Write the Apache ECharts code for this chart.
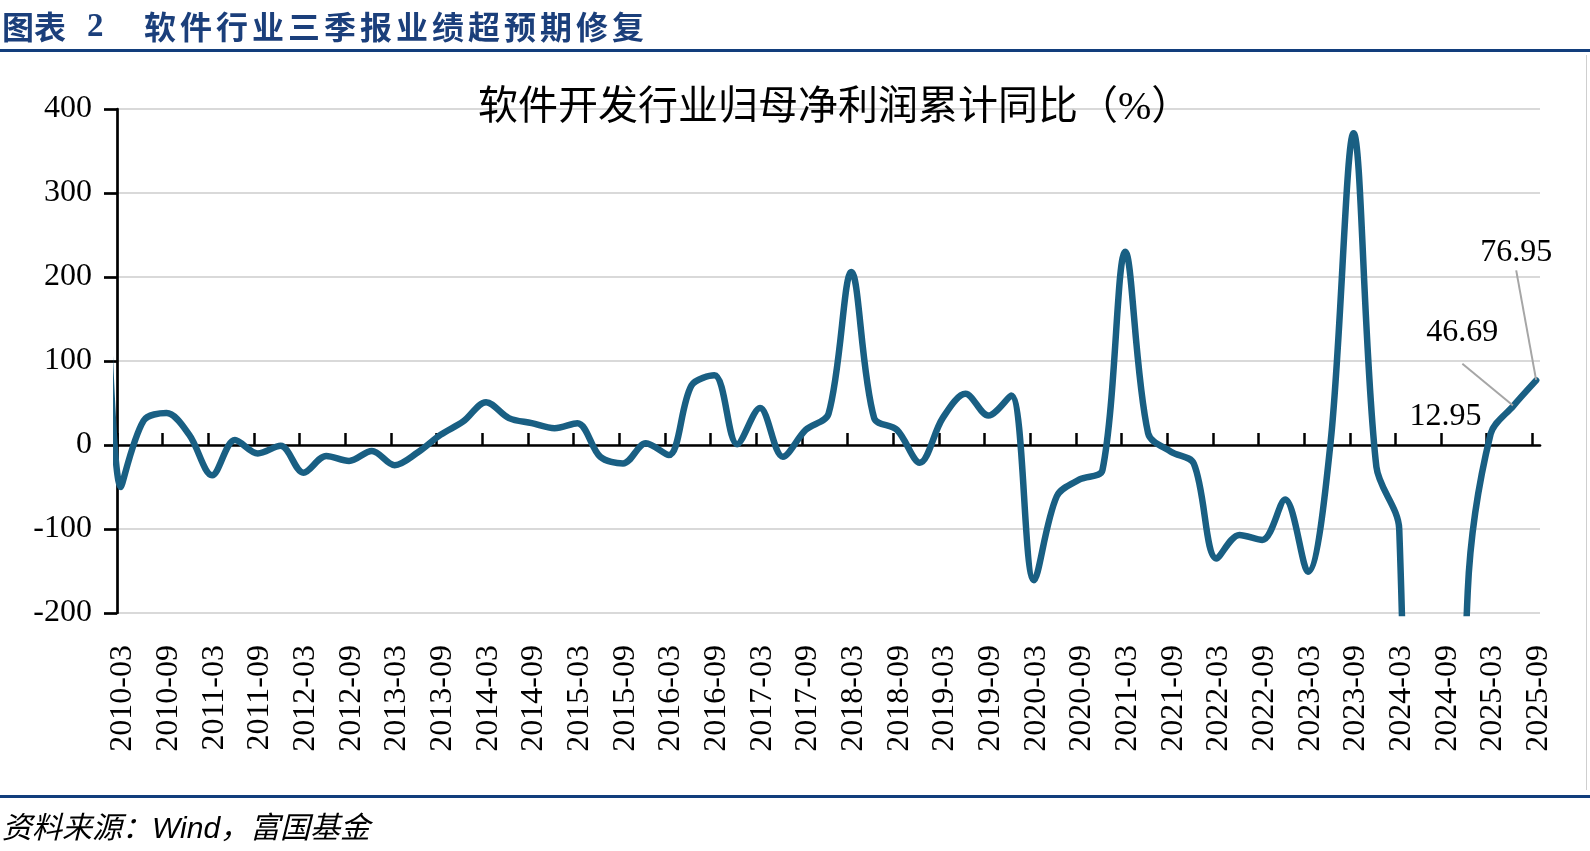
<!DOCTYPE html>
<html><head><meta charset="utf-8">
<script src="https://cdn.jsdelivr.net/npm/echarts@6/dist/echarts.min.js"></script>
<style>
html,body{margin:0;padding:0;background:#fff;}
#wrap{position:relative;width:1590px;height:851px;overflow:hidden;background:#fff;}
#chart{position:absolute;left:0;top:0;width:1590px;height:851px;}
.t{position:absolute;white-space:nowrap;line-height:1;}
</style></head><body>
<div id="wrap">
<div id="chart"></div>
<div class="t" style="left:2px;top:9px;font-weight:bold;font-size:32px;font-family:'Noto Sans CJK SC';color:#1B3F7B;">图表</div>
<div class="t" style="left:87px;top:9px;font-weight:bold;font-size:33px;font-family:'Liberation Serif';color:#1B3F7B;">2</div>
<div class="t" style="left:144px;top:9px;font-weight:bold;font-size:32px;font-family:'Noto Sans CJK SC';color:#1B3F7B;letter-spacing:4px;">软件行业三季报业绩超预期修复</div>
<div style="position:absolute;left:0;top:49px;width:1590px;height:3px;background:#123E7C;"></div>
<div style="position:absolute;left:0;top:795px;width:1590px;height:3px;background:#123E7C;"></div>
<div style="position:absolute;left:1586px;top:55px;width:1px;height:735px;background:#CFCFCF;"></div>
<div class="t" style="left:2px;top:813px;font-style:italic;font-size:30px;font-family:'Liberation Sans','Noto Sans CJK SC';color:#000;">资料来源：Wind，富国基金</div>
</div>
<script>
// ---- data ----
const quarters = [
  "2009-12",
  "2010-03","2010-06","2010-09","2010-12",
  "2011-03","2011-06","2011-09","2011-12",
  "2012-03","2012-06","2012-09","2012-12",
  "2013-03","2013-06","2013-09","2013-12",
  "2014-03","2014-06","2014-09","2014-12",
  "2015-03","2015-06","2015-09","2015-12",
  "2016-03","2016-06","2016-09","2016-12",
  "2017-03","2017-06","2017-09","2017-12",
  "2018-03","2018-06","2018-09","2018-12",
  "2019-03","2019-06","2019-09","2019-12",
  "2020-03","2020-06","2020-09","2020-12",
  "2021-03","2021-06","2021-09","2021-12",
  "2022-03","2022-06","2022-09","2022-12",
  "2023-03","2023-06","2023-09","2023-12",
  "2024-03","2024-06","2024-09","2024-12",
  "2025-03","2025-06","2025-09"
];
const profitYoY = [
  650,
  -50, 29, 38, 12,
  -36, 6, -10, -1,
  -33, -13, -19, -7,
  -24, -9, 12, 28,
  51, 32, 26, 20,
  26, -14, -22, 2,
  -12, 71, 83, 1,
  44, -14, 18, 37,
  206, 32, 18, -21,
  32, 61, 35, 59,
  -161, -61, -41, -30,
  230, 14, -8, -22,
  -135, -107, -113, -65,
  -151, 5, 371, -26,
  -100, -1500, -1200, -175,
  12.95, 46.69, 76.95
];
const tickLabels = [
  "2010-03","2010-09","2011-03","2011-09","2012-03","2012-09","2013-03","2013-09",
  "2014-03","2014-09","2015-03","2015-09","2016-03","2016-09","2017-03","2017-09",
  "2018-03","2018-09","2019-03","2019-09","2020-03","2020-09","2021-03","2021-09",
  "2022-03","2022-09","2023-03","2023-09","2024-03","2024-09","2025-03","2025-09"
];
const yTicks = [-200, -100, 0, 100, 200, 300, 400];
const labeledQuarters = ["2025-03", "2025-06", "2025-09"];

// ---- styling / layout ----
const labelOffsets = { "2025-03": [-45, -18], "2025-06": [-51, -73], "2025-09": [-20, -128] };
const labelLineHeights = { "2025-03": 36, "2025-06": 62, "2025-09": 36 };
const leaderFor = { "2025-03": false, "2025-06": true, "2025-09": true };
const LABEL_NUDGE = 0.8; // visual nudge of rotated tick labels (in months)
const SERIF = "'Liberation Serif','Noto Sans CJK SC'";

function monthIndex(s) {
  const p = s.split('-').map(Number);
  return (p[0] - 2010) * 12 + (p[1] - 3);
}
const tickValues = tickLabels.map(monthIndex);
const labelByValue = {};
tickLabels.forEach(l => { labelByValue[monthIndex(l)] = l; });
const xMax = monthIndex(tickLabels[tickLabels.length - 1]) + 1;

const seriesData = quarters.map((q, i) => {
  const item = { value: [monthIndex(q) + 0.5, profitYoY[i]] };
  if (labeledQuarters.indexOf(q) >= 0) {
    item.label = { show: true, lineHeight: labelLineHeights[q] };
    item.labelLine = { show: leaderFor[q] };
  }
  return item;
});

const chart = echarts.init(document.getElementById('chart'), null, { renderer: 'canvas' });
chart.setOption({
  animation: false,
  backgroundColor: 'transparent',
  title: {
    text: '软件开发行业归母净利润累计同比（%）',
    left: 478, top: 89, padding: 0,
    textStyle: { fontSize: 40, fontWeight: 'normal', color: '#000', fontFamily: SERIF }
  },
  grid: { left: 117, right: 50, top: 109, bottom: 238, containLabel: false },
  xAxis: [
    {
      type: 'value', min: 0, max: xMax, position: 'bottom',
      axisLine: { show: true, onZero: true, lineStyle: { color: '#000', width: 2.7 } },
      axisTick: { show: true, inside: true, length: 12, customValues: tickValues,
                  lineStyle: { color: '#000', width: 2.5 } },
      axisLabel: { show: false },
      splitLine: { show: false }
    },
    {
      type: 'value', min: 0, max: xMax, position: 'bottom',
      axisLine: { show: false, onZero: false },
      axisTick: { show: false },
      axisLabel: {
        show: true, customValues: tickValues.map(v => v + LABEL_NUDGE), rotate: 90, margin: 32,
        fontSize: 32, fontFamily: SERIF, color: '#000',
        formatter: v => labelByValue[Math.round(v - LABEL_NUDGE)] || ''
      },
      splitLine: { show: false }
    }
  ],
  yAxis: {
    type: 'value', min: yTicks[0], max: yTicks[yTicks.length - 1], interval: 100,
    axisLine: { show: true, onZero: false, lineStyle: { color: '#000', width: 2.7 } },
    axisTick: { show: true, length: 13, lineStyle: { color: '#000', width: 2.7 } },
    axisLabel: { margin: 25, fontSize: 32, fontFamily: SERIF, color: '#000' },
    splitLine: { show: true, lineStyle: { color: '#D9D9D9', width: 2 } }
  },
  series: [{
    type: 'line',
    xAxisIndex: 0, yAxisIndex: 0,
    data: seriesData,
    smooth: 0.33,
    clip: true,
    showSymbol: true, showAllSymbol: true,
    symbol: 'circle', symbolSize: 1,
    itemStyle: { color: '#195F83' },
    lineStyle: { color: '#195F83', width: 6.5, cap: 'round', join: 'round' },
    label: {
      show: false, position: 'inside',
      formatter: p => p.value[1].toFixed(2),
      fontSize: 32, fontFamily: SERIF, color: '#000'
    },
    labelLine: { show: false, lineStyle: { color: '#A6A6A6', width: 2 } },
    labelLayout: function (params) {
      const q = quarters[params.dataIndex];
      const o = labelOffsets[q];
      if (!o) return {};
      return { dx: o[0], dy: o[1] };
    },
    emphasis: { disabled: true }
  }]
});
</script>
</body></html>
